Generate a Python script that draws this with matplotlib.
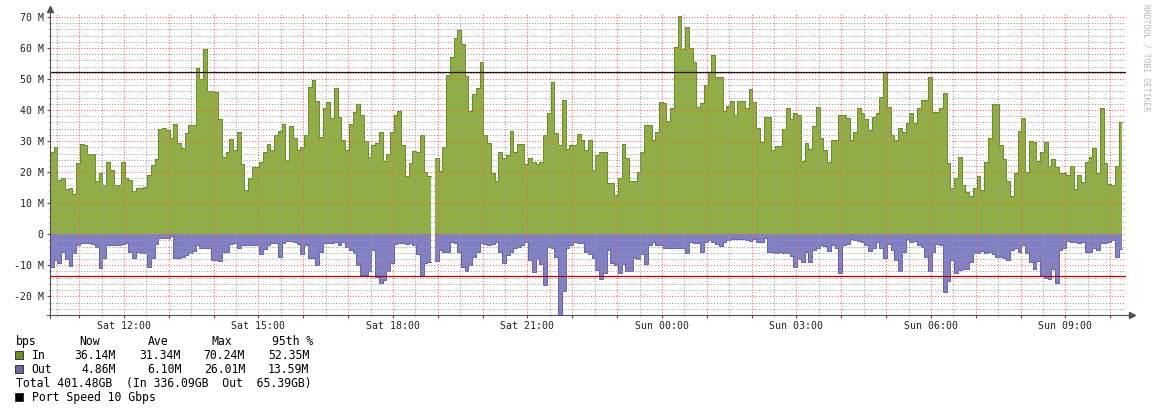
import numpy as np
import pandas as pd
import matplotlib
matplotlib.use("Agg")
import matplotlib.pyplot as plt
import matplotlib.dates as mdates
from matplotlib.ticker import MultipleLocator, FuncFormatter
from matplotlib.patches import Rectangle

# ── Data: 5-minute samples, Mbit/s ───────────────────────────────────────────
START = "2024-03-16 10:21"   # a Saturday
STEP = "5min"

IN_M = [
    26.6, 28.2, 17.5, 18.0, 14.5, 15.0, 12.9, 22.8, 29.0, 28.8,
    26.0, 25.9, 17.2, 19.6, 15.9, 23.4, 20.7, 15.9, 15.9, 23.4,
    18.0, 17.5, 14.0, 14.8, 14.8, 15.3, 19.1, 22.3, 24.2, 34.0,
    34.1, 33.6, 30.9, 35.4, 29.3, 27.7, 32.5, 35.2, 35.2, 53.4,
    50.0, 59.5, 46.2, 46.2, 45.9, 37.0, 25.0, 26.6, 30.6, 27.1,
    32.8, 22.5, 14.3, 18.2, 21.5, 21.5, 23.4, 26.6, 29.0, 27.1,
    32.0, 33.3, 35.4, 23.9, 34.7, 30.9, 27.1, 28.2, 32.0, 47.5,
    49.7, 43.0, 31.2, 40.8, 42.5, 37.3, 47.0, 37.9, 30.4, 27.1,
    35.4, 39.5, 41.8, 38.4, 30.0, 25.0, 28.8, 29.3, 32.8, 23.6,
    26.0, 32.8, 38.4, 39.7, 28.8, 18.8, 22.9, 26.8, 26.6, 32.0,
    20.2, 18.8, np.nan, 24.5, 20.4, 28.2, 51.3, 57.2, 63.1, 65.8,
    61.2, 50.8, 39.7, 45.1, 47.0, 55.6, 32.0, 29.3, 19.6, 17.0,
    26.6, 24.5, 25.5, 33.3, 26.6, 29.0, 29.0, 22.5, 24.5, 23.4,
    22.5, 23.4, 32.0, 38.9, 48.9, 32.5, 28.8, 43.2, 27.5, 28.8,
    28.8, 32.2, 30.4, 27.1, 30.4, 20.7, 25.5, 26.6, 26.6, 16.4,
    16.4, 12.7, 18.0, 29.0, 24.5, 17.2, 17.2, 20.2, 26.6, 35.2,
    35.2, 30.4, 33.0, 42.5, 42.3, 36.5, 40.8, 60.4, 70.2, 59.5,
    66.8, 60.0, 55.4, 41.1, 42.2, 48.0, 52.4, 57.7, 50.5, 50.5,
    39.7, 41.4, 42.9, 38.4, 42.9, 42.9, 40.8, 46.7, 42.5, 34.1,
    29.8, 37.9, 37.9, 27.1, 28.5, 28.5, 33.8, 40.8, 37.0, 38.9,
    38.4, 23.6, 29.3, 27.5, 34.7, 41.1, 30.9, 27.1, 23.4, 30.4,
    30.4, 38.4, 38.4, 37.3, 30.4, 33.0, 40.6, 38.9, 37.1, 33.6,
    37.6, 38.9, 44.3, 52.4, 41.1, 32.0, 30.4, 34.1, 33.0, 35.7,
    38.9, 35.7, 40.8, 43.2, 43.2, 50.5, 39.3, 39.3, 40.8, 45.4,
    22.9, 15.0, 18.0, 25.0, 15.9, 13.5, 12.4, 15.0, 18.6, 14.3,
    23.4, 31.1, 42.0, 42.0, 28.8, 24.2, 17.0, 12.4, 19.6, 33.3,
    37.3, 20.2, 30.0, 29.8, 23.6, 26.6, 29.8, 22.1, 24.2, 21.8,
    19.6, 19.6, 19.1, 22.1, 14.6, 19.1, 16.7, 23.4, 25.0, 27.7,
    19.6, 40.6, 22.9, 16.1, 15.9, 22.1, 36.1,
]

OUT_M = [
    10.4, 8.3, 9.2, 5.6, 8.0, 10.2, 6.0, 3.4, 2.9, 2.9,
    2.9, 3.0, 4.0, 10.9, 7.7, 3.4, 3.6, 3.6, 3.6, 3.0,
    2.9, 5.6, 7.5, 5.6, 6.1, 6.1, 10.4, 7.7, 3.0, 1.3,
    1.3, 1.3, 0.5, 7.7, 7.7, 7.3, 6.6, 6.0, 5.4, 3.4,
    4.5, 4.5, 4.5, 8.3, 8.3, 8.6, 5.6, 5.6, 3.0, 2.9,
    4.5, 3.6, 3.6, 3.6, 3.6, 3.6, 6.4, 4.7, 3.4, 2.7,
    2.9, 7.2, 2.9, 2.1, 2.1, 2.5, 3.0, 6.4, 3.6, 7.7,
    7.7, 9.9, 5.6, 2.7, 2.7, 2.9, 2.6, 3.6, 2.6, 4.0,
    5.0, 6.1, 9.9, 13.1, 13.1, 12.0, 5.1, 13.9, 15.8, 14.7,
    12.0, 9.3, 3.2, 2.7, 2.7, 3.2, 2.7, 3.4, 6.4, 13.6,
    9.2, 8.8, np.nan, 8.6, 5.1, 5.6, 5.6, 2.5, 2.9, 5.6,
    10.4, 12.0, 9.9, 7.2, 5.6, 2.9, 3.2, 3.4, 3.2, 2.6,
    5.6, 9.3, 6.6, 5.6, 4.5, 4.0, 3.4, 2.6, 8.3, 12.2,
    8.0, 9.7, 16.5, 4.0, 4.5, 7.2, 26.0, 18.2, 4.5, 3.4,
    2.4, 2.9, 2.8, 5.6, 6.4, 7.7, 11.5, 14.4, 12.5, 5.1,
    9.3, 9.9, 12.6, 9.5, 12.0, 12.0, 7.7, 8.0, 6.4, 9.7,
    3.4, 2.6, 3.4, 3.6, 4.5, 4.3, 4.3, 4.3, 4.3, 4.3,
    6.0, 2.6, 2.9, 2.9, 5.6, 2.6, 1.8, 2.6, 3.2, 3.8,
    2.6, 1.8, 1.5, 1.5, 1.5, 1.5, 1.8, 2.1, 1.5, 2.6,
    2.6, 1.3, 5.6, 5.6, 6.1, 5.6, 6.1, 6.1, 7.0, 10.4,
    8.0, 8.8, 5.6, 9.0, 5.1, 4.3, 3.6, 3.8, 5.4, 3.6,
    4.3, 12.6, 3.6, 3.2, 1.5, 1.8, 2.1, 2.6, 3.4, 5.4,
    4.3, 2.6, 4.5, 7.7, 3.2, 5.0, 8.3, 12.0, 5.6, 1.5,
    2.6, 2.1, 3.4, 4.0, 7.2, 12.0, 5.6, 3.2, 3.4, 18.5,
    15.2, 8.3, 12.6, 11.5, 11.2, 11.2, 9.0, 6.1, 6.1, 5.4,
    6.1, 5.6, 6.4, 7.2, 7.2, 7.7, 8.3, 5.1, 4.5, 5.6,
    3.4, 6.1, 8.8, 11.2, 8.6, 13.6, 14.0, 14.4, 11.2, 15.8,
    5.1, 4.3, 2.1, 2.4, 2.4, 2.9, 2.4, 5.8, 5.6, 4.3,
    5.0, 2.9, 2.9, 2.4, 2.0, 7.2, 4.9,
]

PCT95_IN = 52.35
PCT95_OUT = 13.59
Y_MIN, Y_MAX = -26.01, 71.25

LEGEND_HEAD = ["bps", "Now", "Ave", "Max", "95th %"]
LEGEND_IN = ["In", "36.14M", "31.34M", "70.24M", "52.35M"]
LEGEND_OUT = ["Out", "4.86M", "6.10M", "26.01M", "13.59M"]
TOTAL_LINE = "Total 401.48GB  (In 336.09GB  Out  65.39GB)"
PORT_LINE = "Port Speed 10 Gbps"

# ── Style ────────────────────────────────────────────────────────────────────
W, H = 1156, 411
MONO = "DejaVu Sans Mono"
GREEN_FILL, GREEN_EDGE = "#8FAF42", "#668A28"
BLUE_FILL, BLUE_EDGE = "#8080C6", "#6262AA"
PCT_IN_COLOR = "#3A0A0A"
PCT_OUT_COLOR = "#C00000"
AXIS_COLOR = "#505050"


def px(x, y):
    return x / W, 1 - y / H


def steps(vals, edges):
    v = np.asarray(vals, dtype=float)
    xs = np.repeat(edges, 2)[1:-1]
    ys = np.repeat(v, 2)
    return xs, ys


fig = plt.figure(figsize=(W / 100, H / 100), dpi=100)
fig.patch.set_facecolor("white")
ax = fig.add_axes([50 / W, 1 - 315 / H, 1076 / W, 302 / H])

start = pd.Timestamp(START)
edges = mdates.date2num(pd.date_range(start, periods=len(IN_M) + 1, freq=STEP))

xs, yin = steps(IN_M, edges)
_, yout = steps(OUT_M, edges)
yout = -yout
ok_in = ~np.isnan(yin)
ok_out = ~np.isnan(yout)

ax.fill_between(xs, 0, np.nan_to_num(yin), where=ok_in, color=GREEN_FILL, lw=0, zorder=1)
ax.plot(xs, yin, color=GREEN_EDGE, lw=0.7, zorder=1.5)
ax.fill_between(xs, np.nan_to_num(yout), 0, where=ok_out, color=BLUE_FILL, lw=0, zorder=1)
ax.plot(xs, yout, color=BLUE_EDGE, lw=0.7, zorder=1.5)

ax.axhline(PCT95_IN, color=PCT_IN_COLOR, lw=0.9, zorder=3)
ax.axhline(-PCT95_OUT, color=PCT_OUT_COLOR, lw=0.9, zorder=3)

ax.set_xlim(mdates.date2num(start), mdates.date2num(start + pd.Timedelta(hours=24)))
ax.set_ylim(Y_MIN, Y_MAX)

# ── Grid & ticks ─────────────────────────────────────────────────────────────
ax.xaxis.set_major_locator(mdates.HourLocator(interval=1))
ax.xaxis.set_minor_locator(mdates.MinuteLocator(byminute=[30]))


def xfmt(v, pos):
    d = mdates.num2date(v)
    return d.strftime("%a %H:%M") if d.hour % 3 == 0 else ""


ax.xaxis.set_major_formatter(FuncFormatter(xfmt))
ax.yaxis.set_major_locator(MultipleLocator(10))
ax.yaxis.set_minor_locator(MultipleLocator(2))
ax.yaxis.set_major_formatter(FuncFormatter(lambda v, p: "0" if abs(v) < 1e-9 else f"{v:.0f} M"))

ax.set_axisbelow(False)
ax.grid(which="minor", color=(0.6, 0.6, 0.6, 0.28), linestyle=(0, (1, 1.8)), lw=0.72)
ax.grid(which="major", color=(1.0, 0.35, 0.35, 0.32), linestyle=(0, (1, 1.8)), lw=0.72)

ax.tick_params(which="major", length=2, width=0.8, color=AXIS_COLOR,
               labelsize=7.1, labelcolor="#222222", pad=2.5)
ax.tick_params(which="minor", length=1, width=0.6, color=AXIS_COLOR)
for lab in ax.get_xticklabels() + ax.get_yticklabels():
    lab.set_fontfamily(MONO)

for s in ax.spines.values():
    s.set_visible(False)

# axis lines with arrows
tr = ax.transAxes
ax.plot([-0.003, 1.004], [0, 0], color=AXIS_COLOR, lw=0.8, transform=tr, clip_on=False, zorder=4)
ax.plot([0, 0], [-0.01, 1.012], color=AXIS_COLOR, lw=0.8, transform=tr, clip_on=False, zorder=4)
ax.plot([1.0055], [0], marker=">", ms=4, color=AXIS_COLOR, transform=tr, clip_on=False, zorder=4)
ax.plot([0], [1.014], marker="^", ms=4, color=AXIS_COLOR, transform=tr, clip_on=False, zorder=4)

# ── Watermark ────────────────────────────────────────────────────────────────
fig.text(*px(1146, 4), "RRDTOOL / TOBI OETIKER", rotation=270, ha="center", va="top",
         fontsize=5.8, color="#B8B8B8", family=MONO)

# ── Legend ───────────────────────────────────────────────────────────────────
LFS = 8.3
head_x = [16, 79, 148, 212, 272]
in_x = [31.5, 74, 139, 203, 268]
out_x = [31.5, 81, 147, 204, 268]
for txt, x in zip(LEGEND_HEAD, head_x):
    fig.text(*px(x, 341), txt, fontsize=LFS, family=MONO, va="center", ha="left")
for txt, x in zip(LEGEND_IN, in_x):
    fig.text(*px(x, 355), txt, fontsize=LFS, family=MONO, va="center", ha="left")
for txt, x in zip(LEGEND_OUT, out_x):
    fig.text(*px(x, 369), txt, fontsize=LFS, family=MONO, va="center", ha="left")
fig.text(*px(16, 383), TOTAL_LINE, fontsize=LFS, family=MONO, va="center", ha="left")
fig.text(*px(31.5, 397), PORT_LINE, fontsize=LFS, family=MONO, va="center", ha="left")

for yc, col in [(355, "#6B8E23"), (369, "#6868AA"), (397, "#000000")]:
    x0, y0 = px(15, yc + 4)
    fig.patches.append(Rectangle((x0, y0), 8 / W, 8 / H, transform=fig.transFigure,
                                 facecolor=col, edgecolor="#222222", lw=0.6))

fig.savefig("out.png", dpi=100, facecolor="white")
